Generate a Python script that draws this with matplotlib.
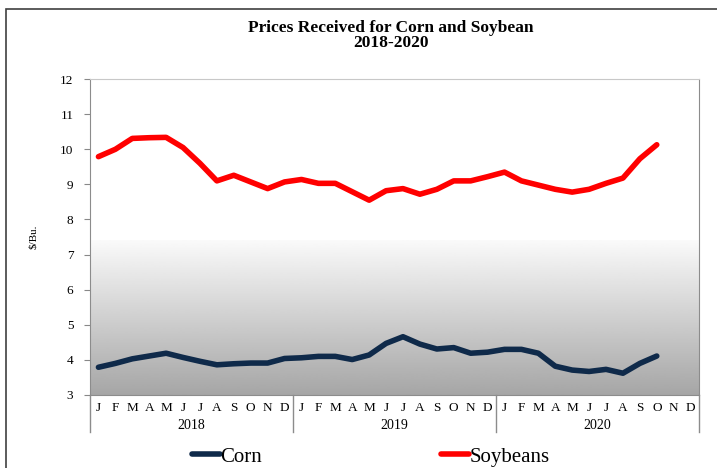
import matplotlib
matplotlib.use("Agg")
import matplotlib.pyplot as plt
import matplotlib.transforms as mtransforms
from matplotlib.patches import Rectangle
import numpy as np

plt.rcParams['font.family'] = ['Liberation Serif', 'DejaVu Serif']

# Monthly prices received, $/Bu., Jan 2018 - Oct 2020
months = ["J", "F", "M", "A", "M", "J", "J", "A", "S", "O", "N", "D"]
years = ["2018", "2019", "2020"]
corn = [3.79, 3.90, 4.03, 4.11, 4.19, 4.07, 3.96, 3.86, 3.89, 3.91, 3.91, 4.04,
        4.06, 4.10, 4.10, 4.01, 4.14, 4.47, 4.66, 4.45, 4.31, 4.35, 4.19, 4.22,
        4.30, 4.30, 4.19, 3.82, 3.71, 3.67, 3.73, 3.62, 3.90, 4.11]
soybeans = [9.79, 10.00, 10.31, 10.33, 10.34, 10.05, 9.60, 9.10, 9.26, 9.07, 8.88, 9.07,
            9.14, 9.03, 9.03, 8.79, 8.55, 8.82, 8.88, 8.72, 8.86, 9.10, 9.10, 9.22,
            9.35, 9.10, 8.98, 8.86, 8.78, 8.86, 9.03, 9.18, 9.73, 10.13]

n_months = len(months) * len(years)

fig = plt.figure(figsize=(7.17, 4.68), dpi=100)
ax = fig.add_axes([0.1255, 0.156, 0.8495, 0.675])

# outer frame
fig.add_artist(Rectangle((0.009, -0.05), 1.2, 1.031, transform=fig.transFigure,
                         fill=False, edgecolor="#404040", lw=1.2))

# gradient fill in lower part of plot area
grad_top = 7.4
grad = np.linspace(0.98, 0.65, 256).reshape(-1, 1)
ax.imshow(grad, cmap="gray", vmin=0, vmax=1, aspect="auto",
          extent=(-0.5, n_months - 0.5, 3, grad_top), origin="upper", zorder=0)

x_corn = np.arange(len(corn))
x_soy = np.arange(len(soybeans))
l1, = ax.plot(x_corn, corn, color="#0f2a4a", lw=4, solid_capstyle="round", zorder=3)
l2, = ax.plot(x_soy, soybeans, color="#ff0000", lw=4, solid_capstyle="round", zorder=3)

ax.set_xlim(-0.5, n_months - 0.5)
ax.set_ylim(3, 12)
ax.set_yticks(range(3, 13))
ax.tick_params(axis="y", labelsize=9.5, length=4, color="#888888", pad=8)
ax.set_xticks([])
for s in ["left", "right", "bottom"]:
    ax.spines[s].set_color("#8c8c8c")
ax.spines["top"].set_color("#c8c8c8")
ax.set_ylabel("$/Bu.", fontsize=8, labelpad=16)

# month and year labels
trans = mtransforms.blended_transform_factory(ax.transData, ax.transAxes)
for i in range(n_months):
    ax.text(i, -0.04, months[i % 12], transform=trans, ha="center", va="center",
            fontsize=9.5, clip_on=False)
for k, yr in enumerate(years):
    ax.text(k * 12 + 5.5, -0.097, yr, transform=trans, ha="center", va="center",
            fontsize=10, clip_on=False)
for k in range(len(years) + 1):
    ax.plot([k * 12 - 0.5, k * 12 - 0.5], [0, -0.117], transform=trans,
            color="#8c8c8c", lw=1, clip_on=False)

fig.text(0.545, 0.924, "Prices Received for Corn and Soybean\n2018-2020",
         ha="center", va="center", fontsize=12.5, fontweight="bold", linespacing=0.95)

fig.legend([l1, l2], ["Corn", "Soybeans"], loc="center", bbox_to_anchor=(0.517, 0.024),
           ncol=2, frameon=False, fontsize=15, handlelength=1.35, handletextpad=0.0,
           columnspacing=8.6, borderpad=0.1)

fig.savefig("out.png", dpi=100)
